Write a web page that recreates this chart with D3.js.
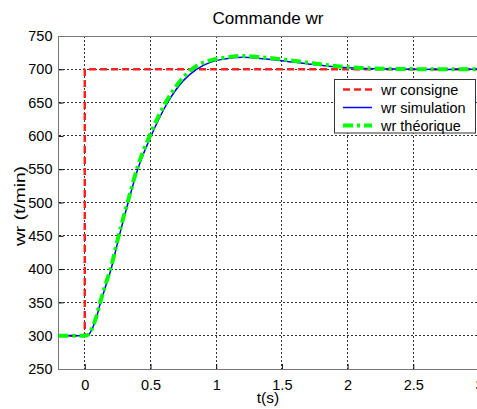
<!DOCTYPE html>
<html><head><meta charset="utf-8">
<script src="https://cdn.jsdelivr.net/npm/d3@7"></script>
<style>body{margin:0;background:#fff}svg{display:block}text{font-family:"Liberation Sans",Arial,sans-serif}</style>
</head><body><svg id="c" width="477" height="409"></svg>
<script>
// Data
const xTicks = [0, 0.5, 1, 1.5, 2, 2.5, 3];
const yTicks = [250, 300, 350, 400, 450, 500, 550, 600, 650, 700, 750];
const consigneT = [-0.2, 0, 0, 3.2];
const consigneV = [300, 300, 700, 700];
const simT = [-0.2, 0, 0.03, 0.06, 0.09, 0.12, 0.16, 0.2, 0.26, 0.33, 0.4, 0.5, 0.63, 0.75, 0.85, 0.95, 1.05, 1.2, 1.35, 1.5, 1.7, 1.9, 2.1, 2.3, 2.5, 2.75, 3.0, 3.2];
const simV = [300, 300, 302, 312, 328, 350, 375, 400, 448, 500, 548, 598, 650, 683, 700, 710, 715, 718, 716, 713, 708, 704, 701.5, 700.5, 700, 699.8, 700, 700];
const theoT = [-0.2, 0, 0.03, 0.06, 0.09, 0.12, 0.16, 0.2, 0.26, 0.33, 0.4, 0.5, 0.63, 0.75, 0.85, 0.95, 1.05, 1.2, 1.35, 1.5, 1.7, 1.9, 2.1, 2.3, 2.5, 2.75, 3.0, 3.2];
const theoV = [300, 300, 302, 313, 330, 352, 378, 403, 452, 503, 552, 603, 655, 688, 705, 713, 717, 720, 718, 715, 710, 705, 702, 700.8, 700.3, 700, 700, 700];
const legendLabels = ["wr consigne", "wr simulation", "wr théorique"];

const svg = d3.select("#c");
const L = 58.5, T = 36, B = 369;
const x = d3.scaleLinear().domain([-0.2, 3]).range([L, L + 3.2 * 131.4]);
const y = d3.scaleLinear().domain([250, 750]).range([B, T]);
const R = x.range()[1];

svg.append("defs").append("clipPath").attr("id", "clip")
  .append("rect").attr("x", L).attr("y", T).attr("width", R - L).attr("height", B - T);

// grid
const g = svg.append("g");
g.selectAll(".gx").data(xTicks).enter().append("line")
  .attr("x1", d => x(d)).attr("x2", d => x(d)).attr("y1", T).attr("y2", B)
  .attr("stroke", "#333").attr("stroke-width", 1).attr("stroke-dasharray", "2,2").attr("shape-rendering", "crispEdges");
g.selectAll(".gy").data(yTicks.filter(d => d > 250 && d < 750)).enter().append("line")
  .attr("x1", L).attr("x2", R).attr("y1", d => y(d)).attr("y2", d => y(d))
  .attr("stroke", "#333").attr("stroke-width", 1).attr("stroke-dasharray", "2,2").attr("shape-rendering", "crispEdges");

// axes with D3
const ax = svg.append("g").attr("transform", `translate(0,${B})`)
  .call(d3.axisBottom(x).tickValues(xTicks).tickSize(-5).tickPadding(11).tickFormat(d3.format("")));
const ay = svg.append("g").attr("transform", `translate(${L},0)`)
  .call(d3.axisLeft(y).tickValues(yTicks).tickSize(-5).tickPadding(6).tickFormat(d3.format("")));
[ax, ay].forEach(a => {
  a.select(".domain").remove();
  a.selectAll("line").attr("stroke", "#000");
  a.selectAll("text").attr("font-size", "14.5px").attr("fill", "#000").attr("font-family", '"Liberation Sans",Arial,sans-serif');
});

// box
svg.append("rect").attr("x", L).attr("y", T).attr("width", R - L).attr("height", B - T)
  .attr("fill", "none").attr("stroke", "#777").attr("stroke-width", 1).attr("shape-rendering", "crispEdges");

// lines
const plot = svg.append("g").attr("clip-path", "url(#clip)");
const line = d3.line().x(d => x(d[0])).y(d => y(d[1]));
plot.append("path").datum(d3.zip(consigneT, consigneV)).attr("d", line)
  .attr("fill", "none").attr("stroke", "#ff2020").attr("stroke-width", 2.5).attr("stroke-dasharray", "7,4");
plot.append("path").datum(d3.zip(simT, simV)).attr("d", d3.line().curve(d3.curveMonotoneX).x(d => x(d[0])).y(d => y(d[1])))
  .attr("fill", "none").attr("stroke", "#0000ff").attr("stroke-width", 1.5);
plot.append("path").datum(d3.zip(theoT, theoV)).attr("d", d3.line().curve(d3.curveMonotoneX).x(d => x(d[0])).y(d => y(d[1])))
  .attr("fill", "none").attr("stroke", "#00ff00").attr("stroke-width", 4).attr("stroke-dasharray", "10,4,3,4");

// title & labels
svg.append("text").attr("x", 268).attr("y", 24).attr("text-anchor", "middle").attr("font-size", "17px")
  .attr("textLength", 111).attr("lengthAdjust", "spacingAndGlyphs").text("Commande wr");
svg.append("text").attr("x", 268).attr("y", 403).attr("text-anchor", "middle").attr("font-size", "15.5px").text("t(s)");
svg.append("text").attr("transform", `translate(25,206) rotate(-90)`).attr("text-anchor", "middle").attr("font-size", "15.5px")
  .attr("textLength", 80).attr("lengthAdjust", "spacingAndGlyphs").text("wr (t/min)");

// legend
const lg = svg.append("g");
lg.append("rect").attr("x", 334.5).attr("y", 79.5).attr("width", 141).attr("height", 53.5)
  .attr("fill", "#fff").attr("stroke", "#333").attr("stroke-width", 1);
const styles = [
  {c: "#ff2020", w: 2.5, d: "7,4"},
  {c: "#0000ff", w: 1.5, d: null},
  {c: "#00ff00", w: 4, d: "10,4,3,4"}
];
legendLabels.forEach((lab, i) => {
  const yy = 89.5 + i * 18;
  lg.append("line").attr("x1", 343).attr("x2", 372).attr("y1", yy).attr("y2", yy)
    .attr("stroke", styles[i].c).attr("stroke-width", styles[i].w).attr("stroke-dasharray", styles[i].d);
  lg.append("text").attr("x", 381).attr("y", yy + 5).attr("font-size", "14.5px").text(lab);
});
</script></body></html>
